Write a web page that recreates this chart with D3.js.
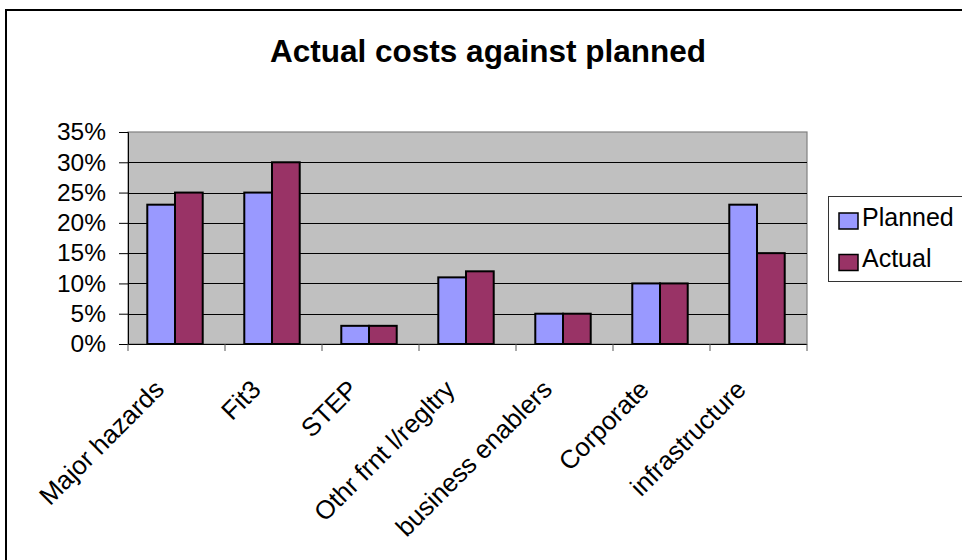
<!DOCTYPE html>
<html>
<head>
<meta charset="utf-8">
<script src="https://cdn.jsdelivr.net/npm/d3@7/dist/d3.min.js"></script>
<style>
  html, body { margin: 0; padding: 0; background: #fff; }
  svg { display: block; font-family: "Liberation Sans", Arial, sans-serif; }
</style>
</head>
<body>
<svg id="chart" width="962" height="560"></svg>
<script>
// Cost shares per work area
const categories = ["Major hazards", "Fit3", "STEP", "Othr frnt l/regltry", "business enablers", "Corporate", "infrastructure"];
const seriesNames = ["Planned", "Actual"];
const planned = [0.23, 0.25, 0.03, 0.11, 0.05, 0.10, 0.23];
const actual  = [0.25, 0.30, 0.03, 0.12, 0.05, 0.10, 0.15];
const yTicks = [0, 0.05, 0.10, 0.15, 0.20, 0.25, 0.30, 0.35];
const colors = ["#9999FF", "#993366"];

const svg = d3.select("#chart");
const font = '"Liberation Sans", Arial, sans-serif';

// Outer chart frame (runs past the right and bottom edges)
svg.append("rect")
  .attr("x", 6).attr("y", 10).attr("width", 1000).attr("height", 600)
  .attr("fill", "#fff").attr("stroke", "#000").attr("stroke-width", 2);

// Title
svg.append("text")
  .attr("x", 488).attr("y", 62)
  .attr("text-anchor", "middle")
  .attr("font-size", 31.5).attr("font-weight", "bold")
  .attr("fill", "#000")
  .text("Actual costs against planned");

const plot = { left: 128, right: 807, top: 132, bottom: 344 };

const x0 = d3.scaleBand().domain(categories).range([plot.left, plot.right]).padding(0);
const step = x0.bandwidth();
const barW = step / 3.5;               // 150% gap between groups
const x1 = d3.scaleBand().domain(seriesNames)
  .range([(step - 2 * barW) / 2 - 1.5, (step + 2 * barW) / 2 - 1.5]).padding(0);
const y = d3.scaleLinear().domain([0, 0.35]).range([plot.bottom, plot.top]);

// Plot background
svg.append("rect")
  .attr("x", plot.left).attr("y", plot.top)
  .attr("width", plot.right - plot.left).attr("height", plot.bottom - plot.top)
  .attr("fill", "#C0C0C0").attr("stroke", "#808080").attr("stroke-width", 1.2);

// Horizontal gridlines
svg.append("g").selectAll("line")
  .data(yTicks.filter(t => t > 0 && t < 0.35))
  .join("line")
  .attr("x1", plot.left).attr("x2", plot.right)
  .attr("y1", d => Math.round(y(d)) + 0.5).attr("y2", d => Math.round(y(d)) + 0.5)
  .attr("stroke", "#000").attr("stroke-width", 1);

// Bars
const rows = categories.map((c, i) => ({ c, vals: [planned[i], actual[i]] }));
svg.append("g").selectAll("g")
  .data(rows)
  .join("g")
  .attr("transform", d => `translate(${x0(d.c)},0)`)
  .selectAll("rect")
  .data(d => d.vals.map((v, k) => ({ k, v })))
  .join("rect")
  .attr("x", d => x1(seriesNames[d.k]))
  .attr("y", d => y(d.v))
  .attr("width", x1.bandwidth())
  .attr("height", d => y(0) - y(d.v))
  .attr("fill", d => colors[d.k])
  .attr("stroke", "#000").attr("stroke-width", 2);

// Y axis
const yAxis = svg.append("g")
  .attr("transform", `translate(${plot.left},0)`)
  .call(d3.axisLeft(y).tickValues(yTicks).tickFormat(d3.format(".0%")).tickSize(9).tickPadding(13));
yAxis.select(".domain").attr("stroke", "#000");
yAxis.selectAll(".tick line").attr("stroke", "#000");
yAxis.selectAll("text")
  .attr("font-family", font).attr("font-size", 24.5).attr("fill", "#000");

// X axis: tick marks on category boundaries
const xAxis = svg.append("g")
  .attr("transform", `translate(0,${plot.bottom})`);
xAxis.append("line")
  .attr("x1", plot.left).attr("x2", plot.right)
  .attr("y1", 0.5).attr("y2", 0.5)
  .attr("stroke", "#000").attr("stroke-width", 1.2);
const bounds = categories.map(c => x0(c)).concat([plot.right]);
xAxis.selectAll("line.tick")
  .data(bounds)
  .join("line")
  .attr("class", "tick")
  .attr("x1", d => d).attr("x2", d => d)
  .attr("y1", 0).attr("y2", 7)
  .attr("stroke", "#555").attr("stroke-width", 1);
xAxis.selectAll("text")
  .data(categories)
  .join("text")
  .attr("transform", d => `translate(${x0(d) + step / 2 - 11},47) rotate(-45)`)
  .attr("text-anchor", "end")
  .attr("font-family", font).attr("font-size", 25.8).attr("fill", "#000")
  .text(d => d);

// Legend
const legend = svg.append("g");
legend.append("rect")
  .attr("x", 828.5).attr("y", 196.5).attr("width", 200).attr("height", 85)
  .attr("fill", "#fff").attr("stroke", "#333").attr("stroke-width", 1);
seriesNames.forEach((name, k) => {
  const cy = 221 + k * 41.5;
  legend.append("rect")
    .attr("x", 839).attr("y", cy - 8).attr("width", 19).attr("height", 16)
    .attr("fill", colors[k]).attr("stroke", "#000").attr("stroke-width", 1.5);
  legend.append("text")
    .attr("x", 862).attr("y", cy + 4.5)
    .attr("font-family", font).attr("font-size", 25).attr("fill", "#000")
    .text(name);
});
</script>
</body>
</html>
